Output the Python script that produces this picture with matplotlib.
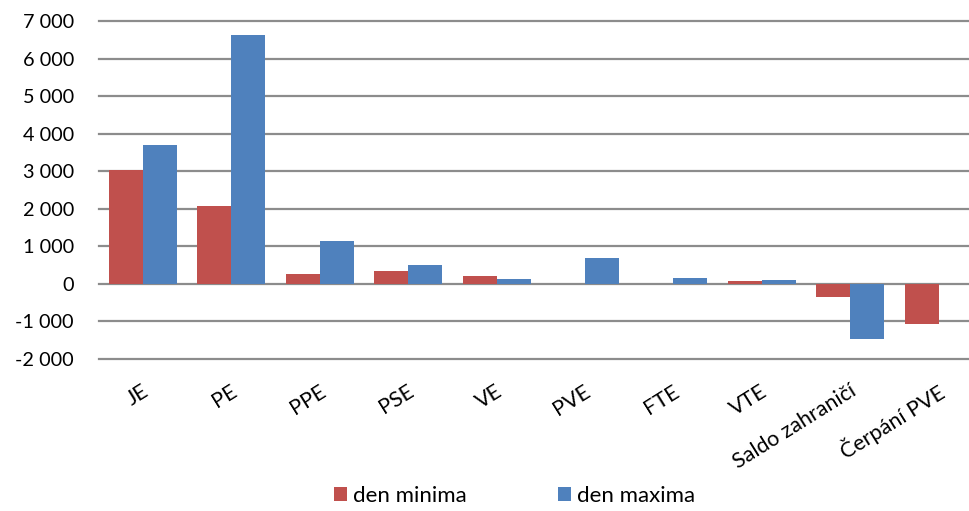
import matplotlib
matplotlib.use("Agg")
import matplotlib.pyplot as plt
from matplotlib.patches import Patch
import matplotlib.transforms as mtransforms
import numpy as np

categories = ["JE", "PE", "PPE", "PSE", "VE", "PVE", "FTE", "VTE", "Saldo zahraničí", "Čerpání PVE"]
den_minima = [3020, 2080, 265, 340, 220, 0, 0, 65, -355, -1060]
den_maxima = [3690, 6620, 1155, 505, 125, 690, 150, 115, -1480, 0]
series_names = ["den minima", "den maxima"]
yticks = [-2000, -1000, 0, 1000, 2000, 3000, 4000, 5000, 6000, 7000]

RED = "#C0504D"
BLUE = "#4F81BD"

plt.rcParams['font.family'] = ['Lato', 'DejaVu Sans']

W, H = 970, 511
fig = plt.figure(figsize=(W / 100, H / 100), dpi=100)
left_px, right_px, top_px, bottom_px = 98.8, 970, 21, 359
ax = fig.add_axes([left_px / W, 1 - bottom_px / H, (right_px - left_px) / W, (bottom_px - top_px) / H])

x = np.arange(len(categories))
bw = 0.385
ax.bar(x - bw / 2, den_minima, width=bw, color=RED, zorder=3)
ax.bar(x + bw / 2, den_maxima, width=bw, color=BLUE, zorder=3)

spacing = 88.4
ax.set_xlim(-0.5, -0.5 + (right_px - left_px) / spacing)
ax.set_ylim(-2000, 7000)

for yv in yticks:
    ax.axhline(yv, color="#8c8c8c", lw=1.6, zorder=1, clip_on=False)

for s in ax.spines.values():
    s.set_visible(False)

ax.set_yticks(yticks)
ax.set_yticklabels([f"{v:,}".replace(",", " ") for v in yticks])
ax.tick_params(axis="y", length=0, pad=18, labelsize=14.3, labelcolor="#000000")

ax.set_xticks(x)
ax.set_xticklabels(categories, rotation=32, ha="right", va="center", rotation_mode="anchor")
ax.tick_params(axis="x", length=0, pad=22, labelsize=15.5)
offset = mtransforms.ScaledTranslation(4 / 100, 0, fig.dpi_scale_trans)
for lbl in ax.get_xticklabels():
    lbl.set_transform(lbl.get_transform() + offset)

handles = [Patch(facecolor=RED, edgecolor="none"), Patch(facecolor=BLUE, edgecolor="none")]
fig.legend(handles, series_names, loc="center", bbox_to_anchor=(514.5 / W, 1 - 496 / H),
           ncol=2, frameon=False, fontsize=16, handlelength=0.59, handleheight=0.59,
           handletextpad=0.28, columnspacing=4.1, borderpad=0)

fig.savefig("out.png", dpi=100)
